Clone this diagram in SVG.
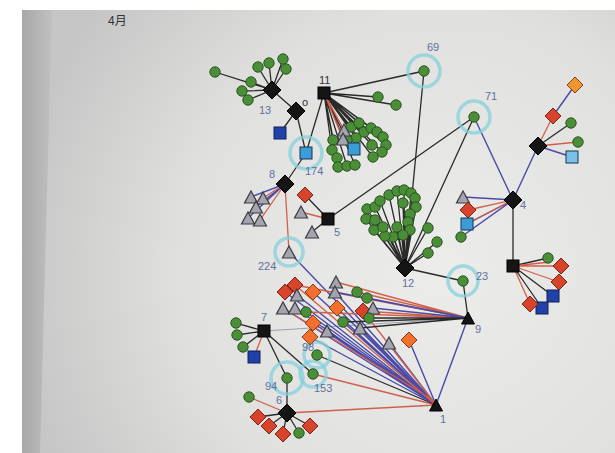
<svg xmlns="http://www.w3.org/2000/svg" xmlns:xlink="http://www.w3.org/1999/xlink" width="615" height="453" viewBox="0 0 615 453">
<defs>
<radialGradient id="paper" cx="440" cy="270" r="430" gradientUnits="userSpaceOnUse">
<stop offset="0" stop-color="#ececea"/><stop offset="0.6" stop-color="#e0e0de"/><stop offset="1" stop-color="#c6c6c6"/>
</radialGradient>
<linearGradient id="shade" x1="0" y1="0" x2="1" y2="0">
<stop offset="0" stop-color="#a8a8a8"/><stop offset="1" stop-color="#c0c0c0"/>
</linearGradient>
<path id="dia" d="M0,-9 L9,0 L0,9 L-9,0Z"/>
<path id="rdia" d="M0,-8 L8,0 L0,8 L-8,0Z"/>
<path id="tri" d="M0,-7 L6.5,5 L-6.5,5Z"/>
<rect id="sq" x="-6" y="-6" width="12" height="12"/>
<circle id="dot" r="5.2"/>
</defs>
<style>
.g{fill:#4a8f38;stroke:#2b5520;stroke-width:1}
.kd{fill:#151515;stroke:#000;stroke-width:1}
.rd{fill:#d8432c;stroke:#7a2418;stroke-width:1}
.od{fill:#f2702c;stroke:#8a3c18;stroke-width:1}
.gt{fill:#a4a4ac;stroke:#3a3a46;stroke-width:1.2}
.lb{fill:#3b9cd8;stroke:#173650;stroke-width:1}
.db{fill:#2140a8;stroke:#10205a;stroke-width:1}
.ring{fill:none;stroke:#86d0dc;stroke-width:3.5;opacity:0.75}
.k{stroke:#2a2a2a;stroke-width:1.3;fill:none}
.b{stroke:#4a4aa8;stroke-width:1.4;fill:none}
.r{stroke:#d0604a;stroke-width:1.3;fill:none}
.f{stroke:#a0a0b0;stroke-width:1;fill:none}
.lbl{font-family:"Liberation Sans","DejaVu Sans",sans-serif;font-size:11px;fill:#6070a0;font-weight:300}
.tt{font-family:"Liberation Sans","Noto Sans CJK JP",sans-serif;font-size:12px;fill:#333}
</style>
<rect width="615" height="453" fill="#fff"/>
<rect x="22" y="10" width="593" height="443" fill="url(#paper)"/>
<polygon points="22,10 52,10 40,453 22,453" fill="url(#shade)"/>
<text class="tt" x="108" y="25">4月</text>

<g id="connectors">
<path class="k" d="M272,90 L215,72 M272,90 L258,67 M272,90 L269,63 M272,90 L283,59 M272,90 L286,69 M272,90 L251,82 M272,90 L242,91 M272,90 L248,100 M272,90 L296,111"/>
<path class="k" d="M296,111 L280,133 M296,111 L306,153 M324,93 L306,153 M306,153 L285,184"/>
<path class="k" d="M324,93 L424,71 M324,93 L378,97 M324,93 L396,105"/>
<path class="k" d="M324,93 L351,127 M324,93 L359,123 M324,93 L364,132 M324,93 L371,128 M324,93 L377,132 M324,93 L383,137 M324,93 L386,145 M324,93 L382,152 M324,93 L373,157 M324,93 L372,145 M324,93 L356,138 M324,93 L347,140 M324,93 L333,140 M324,93 L332,150 M324,93 L337,158 M324,93 L338,167 M324,93 L347,166 M324,93 L355,165"/>
<path class="r" d="M324,93 L344,130 M324,93 L343,139 M324,93 L354,149"/>
<path class="b" d="M285,184 L251,197 M285,184 L248,218 M285,184 L256,207"/>
<path class="r" d="M285,184 L263,198 M285,184 L260,220 M285,184 L289,252"/>
<path class="k" d="M328,219 L305,195 M328,219 L312,232 M328,219 L474,117"/>
<path class="r" d="M328,219 L301,212"/>
<path class="k" d="M424,71 L405,268 M474,117 L405,268"/>
<path class="b" d="M474,117 L513,200 M513,200 L538,146"/>
<path class="r" d="M538,146 L553,116 M538,146 L578,142"/>
<path class="b" d="M553,116 L575,85 M538,146 L572,157"/>
<path class="k" d="M538,146 L571,123"/>
<path class="b" d="M513,200 L463,197 M513,200 L467,224 M513,200 L461,237"/>
<path class="r" d="M513,200 L468,210 M513,200 L470,222"/>
<path class="k" d="M513,200 L513,266"/>
<path class="k" d="M513,266 L548,258 M513,266 L553,296 M513,266 L542,308"/>
<path class="r" d="M513,266 L561,266 M513,266 L559,282 M513,266 L530,304 M513,266 L550,262"/>
<path class="k" d="M405,268 L367,209 M405,268 L375,207 M405,268 L380,201 M405,268 L389,195 M405,268 L397,191 M405,268 L404,190 M405,268 L411,193 M405,268 L415,198 M405,268 L416,207 M405,268 L410,214 M405,268 L408,222 M405,268 L410,230 M405,268 L403,235 M405,268 L393,237 M405,268 L385,236 M405,268 L374,230 M405,268 L366,219 M405,268 L375,220 M405,268 L383,227 M405,268 L397,227 M405,268 L403,203 M405,268 L428,228 M405,268 L437,242 M405,268 L428,253"/>
<path class="k" d="M405,268 L463,281 M463,281 L468,318"/>
<path class="b" d="M468,318 L436,405 M289,252 L436,405"/>
<path class="k" d="M264,331 L236,323 M264,331 L237,335 M264,331 L243,347 M264,331 L287,378 M264,331 L313,374"/>
<path class="r" d="M264,331 L254,357"/>
<path class="f" d="M264,331 L468,318"/>
<path class="k" d="M287,378 L287,413 M287,413 L258,417 M287,413 L269,426 M287,413 L283,434 M287,413 L310,426 M287,413 L299,433"/>
<path class="r" d="M287,413 L249,397 M287,413 L436,405 M313,374 L436,405"/>
<path class="k" d="M317,355 L436,405"/>
<path class="b" d="M313,292 L436,405 M297,295 L436,405 M283,308 L436,405 M295,308 L436,405 M337,308 L436,405 M313,323 L436,405 M310,337 L436,405 M327,331 L436,405 M389,343 L436,405 M409,340 L436,405 M285,292 L436,405 M306,312 L436,405 M343,322 L436,405 M360,328 L436,405 M335,292 L436,405"/>
<path class="r" d="M295,285 L436,405 M363,311 L436,405 M283,308 L436,402"/>
<path class="r" d="M336,282 L468,318 M295,285 L468,318 M357,292 L468,318 M363,311 L468,318 M306,312 L468,318"/>
<path class="b" d="M335,292 L468,318 M367,298 L468,318 M373,308 L468,318"/>
<path class="k" d="M369,318 L468,318 M343,322 L468,318 M360,328 L468,318"/>
</g>

<g id="rings">
<circle class="ring" cx="424" cy="71" r="16"/>
<circle class="ring" cx="474" cy="117" r="16"/>
<circle class="ring" cx="306" cy="153" r="16"/>
<circle class="ring" cx="289" cy="252" r="14"/>
<circle class="ring" cx="463" cy="281" r="15"/>
<circle class="ring" cx="317" cy="355" r="13"/>
<circle class="ring" cx="313" cy="374" r="13"/>
<circle class="ring" cx="287" cy="378" r="16"/>
</g>

<g id="node-13"><use xlink:href="#dia" class="kd" x="272" y="90"/><text class="lbl" x="259" y="114">13</text></g>
<g id="node-13-leaves">
<use xlink:href="#dot" class="g" x="215" y="72"/><use xlink:href="#dot" class="g" x="258" y="67"/><use xlink:href="#dot" class="g" x="269" y="63"/><use xlink:href="#dot" class="g" x="283" y="59"/><use xlink:href="#dot" class="g" x="286" y="69"/><use xlink:href="#dot" class="g" x="251" y="82"/><use xlink:href="#dot" class="g" x="242" y="91"/><use xlink:href="#dot" class="g" x="248" y="100"/>
</g>
<g id="node-10"><use xlink:href="#dia" class="kd" x="296" y="111"/><text class="lbl" x="302" y="106" style="fill:#333">o</text><use xlink:href="#sq" class="db" x="280" y="133"/></g>
<g id="node-11"><use xlink:href="#sq" class="kd" x="324" y="93"/><text class="lbl" x="319" y="84" style="fill:#333">11</text>
<use xlink:href="#dot" class="g" x="378" y="97"/><use xlink:href="#dot" class="g" x="396" y="105"/></g>
<g id="node-11-cluster">
<use xlink:href="#dot" class="g" x="351" y="127"/><use xlink:href="#dot" class="g" x="359" y="123"/><use xlink:href="#dot" class="g" x="364" y="132"/><use xlink:href="#dot" class="g" x="371" y="128"/><use xlink:href="#dot" class="g" x="377" y="132"/><use xlink:href="#dot" class="g" x="383" y="137"/><use xlink:href="#dot" class="g" x="386" y="145"/><use xlink:href="#dot" class="g" x="382" y="152"/><use xlink:href="#dot" class="g" x="373" y="157"/><use xlink:href="#dot" class="g" x="372" y="145"/><use xlink:href="#dot" class="g" x="356" y="138"/><use xlink:href="#dot" class="g" x="347" y="140"/><use xlink:href="#dot" class="g" x="333" y="140"/><use xlink:href="#dot" class="g" x="332" y="150"/><use xlink:href="#dot" class="g" x="337" y="158"/><use xlink:href="#dot" class="g" x="338" y="167"/><use xlink:href="#dot" class="g" x="347" y="166"/><use xlink:href="#dot" class="g" x="355" y="165"/>
<use xlink:href="#tri" class="gt" x="344" y="131"/><use xlink:href="#tri" class="gt" x="343" y="140"/><use xlink:href="#sq" class="lb" x="354" y="149"/>
</g>
<g id="node-174"><use xlink:href="#sq" class="lb" x="306" y="153"/><text class="lbl" x="305" y="175">174</text></g>
<g id="node-8"><use xlink:href="#dia" class="kd" x="285" y="184"/><text class="lbl" x="269" y="178">8</text>
<use xlink:href="#tri" class="gt" x="251" y="198"/><use xlink:href="#tri" class="gt" x="263" y="199"/><use xlink:href="#tri" class="gt" x="256" y="208"/><use xlink:href="#tri" class="gt" x="248" y="219"/><use xlink:href="#tri" class="gt" x="260" y="221"/></g>
<g id="node-5"><use xlink:href="#sq" class="kd" x="328" y="219"/><text class="lbl" x="334" y="236">5</text>
<use xlink:href="#rdia" class="rd" x="305" y="195"/><use xlink:href="#tri" class="gt" x="301" y="213"/><use xlink:href="#tri" class="gt" x="312" y="233"/></g>
<g id="node-224"><use xlink:href="#tri" class="gt" x="289" y="253"/><text class="lbl" x="258" y="270">224</text></g>
<g id="node-69"><use xlink:href="#dot" class="g" x="424" y="71"/><text class="lbl" x="427" y="51">69</text></g>
<g id="node-71"><use xlink:href="#dot" class="g" x="474" y="117"/><text class="lbl" x="485" y="100">71</text></g>
<g id="node-12"><use xlink:href="#dia" class="kd" x="405" y="268"/><text class="lbl" x="402" y="287">12</text></g>
<g id="node-12-cluster">
<use xlink:href="#dot" class="g" x="367" y="209"/><use xlink:href="#dot" class="g" x="375" y="207"/><use xlink:href="#dot" class="g" x="380" y="201"/><use xlink:href="#dot" class="g" x="389" y="195"/><use xlink:href="#dot" class="g" x="397" y="191"/><use xlink:href="#dot" class="g" x="404" y="190"/><use xlink:href="#dot" class="g" x="411" y="193"/><use xlink:href="#dot" class="g" x="415" y="198"/><use xlink:href="#dot" class="g" x="416" y="207"/><use xlink:href="#dot" class="g" x="410" y="214"/><use xlink:href="#dot" class="g" x="408" y="222"/><use xlink:href="#dot" class="g" x="410" y="230"/><use xlink:href="#dot" class="g" x="403" y="235"/><use xlink:href="#dot" class="g" x="393" y="237"/><use xlink:href="#dot" class="g" x="385" y="236"/><use xlink:href="#dot" class="g" x="374" y="230"/><use xlink:href="#dot" class="g" x="366" y="219"/><use xlink:href="#dot" class="g" x="375" y="220"/><use xlink:href="#dot" class="g" x="383" y="227"/><use xlink:href="#dot" class="g" x="397" y="227"/><use xlink:href="#dot" class="g" x="403" y="203"/><use xlink:href="#dot" class="g" x="428" y="228"/><use xlink:href="#dot" class="g" x="437" y="242"/><use xlink:href="#dot" class="g" x="428" y="253"/>
</g>
<g id="node-4"><use xlink:href="#dia" class="kd" x="513" y="200"/><text class="lbl" x="520" y="209">4</text>
<use xlink:href="#tri" class="gt" x="463" y="198"/><use xlink:href="#rdia" class="rd" x="468" y="210"/><use xlink:href="#sq" class="lb" x="467" y="224"/><use xlink:href="#dot" class="g" x="461" y="237"/></g>
<g id="node-ne"><use xlink:href="#dia" class="kd" x="538" y="146"/>
<use xlink:href="#rdia" class="rd" x="553" y="116"/><use xlink:href="#rdia" class="od" x="575" y="85" style="fill:#f0962e"/><use xlink:href="#dot" class="g" x="571" y="123"/><use xlink:href="#dot" class="g" x="578" y="142"/><use xlink:href="#sq" class="lb" x="572" y="157" style="fill:#7cc0e8"/></g>
<g id="node-se"><use xlink:href="#sq" class="kd" x="513" y="266"/>
<use xlink:href="#dot" class="g" x="548" y="258"/><use xlink:href="#rdia" class="rd" x="561" y="266"/><use xlink:href="#rdia" class="rd" x="559" y="282"/><use xlink:href="#sq" class="db" x="553" y="296"/><use xlink:href="#sq" class="db" x="542" y="308"/><use xlink:href="#rdia" class="rd" x="530" y="304"/></g>
<g id="node-23"><use xlink:href="#dot" class="g" x="463" y="281"/><text class="lbl" x="476" y="280">23</text></g>
<g id="node-9"><use xlink:href="#tri" class="kd" x="468" y="319"/><text class="lbl" x="475" y="333">9</text></g>
<g id="node-1"><use xlink:href="#tri" class="kd" x="436" y="406"/><text class="lbl" x="440" y="423">1</text></g>
<g id="fan">
<use xlink:href="#rdia" class="rd" x="295" y="285"/><use xlink:href="#rdia" class="rd" x="285" y="292"/><use xlink:href="#rdia" class="od" x="313" y="292"/>
<use xlink:href="#tri" class="gt" x="336" y="283"/><use xlink:href="#tri" class="gt" x="335" y="293"/><use xlink:href="#tri" class="gt" x="297" y="296"/><use xlink:href="#tri" class="gt" x="283" y="309"/><use xlink:href="#tri" class="gt" x="295" y="309"/>
<use xlink:href="#rdia" class="od" x="337" y="308"/><use xlink:href="#dot" class="g" x="306" y="312"/><use xlink:href="#dot" class="g" x="357" y="292"/><use xlink:href="#dot" class="g" x="367" y="298"/>
<use xlink:href="#rdia" class="rd" x="363" y="311"/><use xlink:href="#tri" class="gt" x="373" y="309"/><use xlink:href="#dot" class="g" x="369" y="318"/><use xlink:href="#dot" class="g" x="343" y="322"/>
<use xlink:href="#rdia" class="od" x="313" y="323"/><use xlink:href="#tri" class="gt" x="360" y="329"/><use xlink:href="#tri" class="gt" x="327" y="332"/><use xlink:href="#rdia" class="od" x="310" y="337"/>
<use xlink:href="#tri" class="gt" x="389" y="344"/><use xlink:href="#rdia" class="od" x="409" y="340"/>
</g>
<g id="node-7"><use xlink:href="#sq" class="kd" x="264" y="331"/><text class="lbl" x="261" y="321">7</text>
<use xlink:href="#dot" class="g" x="236" y="323"/><use xlink:href="#dot" class="g" x="237" y="335"/><use xlink:href="#dot" class="g" x="243" y="347"/><use xlink:href="#sq" class="db" x="254" y="357"/></g>
<g id="node-98"><use xlink:href="#dot" class="g" x="317" y="355"/><text class="lbl" x="302" y="351">98</text></g>
<g id="node-153"><use xlink:href="#dot" class="g" x="313" y="374"/><text class="lbl" x="314" y="392">153</text></g>
<g id="node-94"><use xlink:href="#dot" class="g" x="287" y="378"/><text class="lbl" x="265" y="390">94</text></g>
<g id="node-6"><use xlink:href="#dia" class="kd" x="287" y="413"/><text class="lbl" x="276" y="404">6</text>
<use xlink:href="#dot" class="g" x="249" y="397"/><use xlink:href="#rdia" class="rd" x="258" y="417"/><use xlink:href="#rdia" class="rd" x="269" y="426"/><use xlink:href="#rdia" class="rd" x="283" y="434"/><use xlink:href="#rdia" class="rd" x="310" y="426"/><use xlink:href="#dot" class="g" x="299" y="433"/></g>
</svg>
